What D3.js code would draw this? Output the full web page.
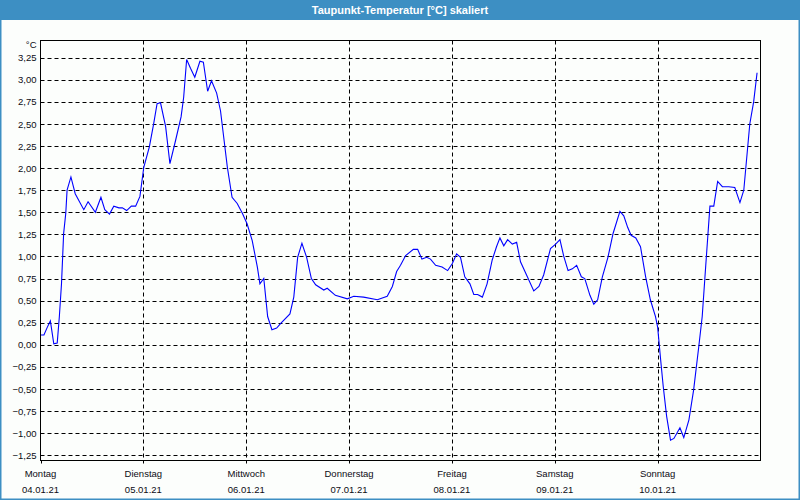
<!DOCTYPE html>
<html>
<head>
<meta charset="utf-8">
<script src="https://cdn.jsdelivr.net/npm/d3@7"></script>
<style>
  html, body { margin: 0; padding: 0; background: #fcfefc; }
  svg { display: block; font-family: "Liberation Sans", Arial, sans-serif; }
</style>
</head>
<body>
<svg id="chart" width="800" height="500"></svg>
<script>
// hours since Mo 04.01.21 00:00
var hours = [
  0, 0.8, 1.6, 2.3, 3.1, 3.9, 4.4, 4.9, 5.4, 5.9, 6.2, 7.1, 8.1, 10.1, 11.1, 12.8,
  14.1, 15.0, 16.1, 17.1, 18.3, 19.1, 20.1, 21.2, 22.2, 23.2, 24.1, 25.4, 26.4, 27.2,
  28.0, 29.2, 30.2, 31.5, 32.8, 33.4, 34.1, 35.0, 36.0, 37.2, 38.0, 39.0, 39.9, 41.1,
  42.0, 43.6, 44.7, 45.9, 47.1, 48.2, 49.4, 50.6, 51.2, 52.1, 53.0, 54.0, 55.1, 56.0,
  58.2, 59.1, 60.0, 61.0, 62.1, 63.2, 64.2, 66.1, 66.9, 68.8, 71.6, 73.1, 75.4, 78.6,
  80.9, 82.1, 83.1, 84.0, 85.2, 87.0, 88.0, 89.0, 90.1, 91.0, 92.2, 93.7, 95.0, 96.1,
  97.1, 98.0, 99.0, 100.2, 101.1, 102.0, 103.1, 104.2, 105.4, 106.4, 107.2, 108.1, 109.0,
  110.1, 111.1, 112.0, 113.6, 115.1, 116.3, 117.4, 119.0, 120.2, 121.2, 122.1, 123.1,
  124.1, 125.1, 126.2, 127.0, 128.2, 129.1, 130.0, 131.1, 132.4, 133.6, 135.2, 136.1,
  137.0, 137.8, 138.9, 140.0, 141.2, 142.3, 143.5, 144.0, 144.7, 145.3, 146.1, 147.0,
  147.8, 149.2, 150.1, 151.3, 152.4, 153.6, 154.4, 155.2, 156.2, 157.1, 158.0, 159.1,
  160.6, 162.0, 163.2, 164.1, 165.5, 166.4, 167.2
];

var values = [
  0.11, 0.11, 0.20, 0.27, 0.01, 0.02, 0.32, 0.69, 1.26, 1.49, 1.75, 1.90, 1.71, 1.53, 1.62, 1.50,
  1.67, 1.53, 1.48, 1.57, 1.55, 1.55, 1.52, 1.57, 1.57, 1.68, 2.01, 2.24, 2.50, 2.73,
  2.74, 2.47, 2.05, 2.31, 2.58, 2.80, 3.23, 3.13, 3.03, 3.21, 3.20, 2.87, 2.99, 2.85,
  2.65, 2.01, 1.67, 1.60, 1.49, 1.37, 1.18, 0.88, 0.69, 0.75, 0.32, 0.17, 0.19, 0.24,
  0.35, 0.54, 0.99, 1.15, 0.99, 0.75, 0.68, 0.62, 0.64, 0.56, 0.52, 0.55, 0.54, 0.51,
  0.55, 0.66, 0.83, 0.90, 1.01, 1.08, 1.08, 0.97, 0.99, 0.97, 0.90, 0.88, 0.84, 0.92,
  1.03, 0.99, 0.77, 0.69, 0.57, 0.57, 0.54, 0.69, 0.96, 1.11, 1.21, 1.12, 1.19,
  1.14, 1.16, 0.94, 0.77, 0.61, 0.66, 0.79, 1.09, 1.14, 1.19, 1.00, 0.84,
  0.86, 0.90, 0.77, 0.75, 0.56, 0.46, 0.51, 0.77, 0.99, 1.26, 1.51, 1.46,
  1.33, 1.24, 1.21, 1.11, 0.77, 0.51, 0.32, 0.20, -0.17, -0.47, -0.81, -1.08,
  -1.06, -0.94, -1.05, -0.85, -0.51, -0.02, 0.32, 0.88, 1.57, 1.57, 1.85, 1.79,
  1.79, 1.78, 1.61, 1.75, 2.50, 2.75, 3.08
];

var dayNames = ["Montag", "Dienstag", "Mittwoch", "Donnerstag", "Freitag", "Samstag", "Sonntag"];
var dayDates = ["04.01.21", "05.01.21", "06.01.21", "07.01.21", "08.01.21", "09.01.21", "10.01.21"];
var yTicks = [-1.25, -1, -0.75, -0.5, -0.25, 0, 0.25, 0.5, 0.75, 1, 1.25, 1.5, 1.75, 2, 2.25, 2.5, 2.75, 3, 3.25];

var chartTitle = "Taupunkt-Temperatur [°C] skaliert";
var unitLabel = "°C";

/* ===================================
 *  SETUP
 * =================================== */
var width = 800,
  height = 500;

var plotLeft = 40.5,
  plotRight = 760.5,
  plotTop = 40.5,
  plotBottom = 460.5;

var svg = d3.select("#chart");

var deLocale = d3.formatLocale({ decimal: ",", thousands: ".", grouping: [3], currency: ["", " €"] });
var fmt = deLocale.format(".2f");

var x = d3.scaleLinear().domain([0, 168]).range([plotLeft, plotRight]);
var y = d3.scaleLinear().domain([-1.31, 3.445]).range([plotBottom, plotTop]);

// window frame + title bar
svg.append("rect")
  .attr("x", 0.75).attr("y", 0.75)
  .attr("width", width - 1.5).attr("height", height - 1.5)
  .attr("fill", "#fcfefc")
  .attr("stroke", "#3d8fc3")
  .attr("stroke-width", 1.5);

svg.append("rect")
  .attr("x", 0).attr("y", 0)
  .attr("width", width).attr("height", 20)
  .attr("fill", "#3d8fc3");

svg.append("text")
  .attr("x", width / 2).attr("y", 14)
  .attr("text-anchor", "middle")
  .attr("fill", "#ffffff")
  .style("font-size", "11px")
  .style("font-weight", "bold")
  .text(chartTitle);

/* ===================================
 *  GRID
 * =================================== */
var grid = svg.append("g").attr("stroke", "#000").attr("stroke-dasharray", "4,3").attr("stroke-width", 1);

grid.selectAll("line.h")
  .data(yTicks)
  .enter().append("line")
  .attr("class", "h")
  .attr("x1", plotLeft).attr("x2", plotRight)
  .attr("y1", function (d) { return Math.round(y(d)) + 0.5; })
  .attr("y2", function (d) { return Math.round(y(d)) + 0.5; });

grid.selectAll("line.v")
  .data(d3.range(1, 7))
  .enter().append("line")
  .attr("class", "v")
  .attr("y1", plotTop).attr("y2", plotBottom)
  .attr("x1", function (d) { return Math.round(x(d * 24)) + 0.5; })
  .attr("x2", function (d) { return Math.round(x(d * 24)) + 0.5; });

/* ===================================
 *  AXES
 * =================================== */
var yAxis = d3.axisLeft(y)
  .tickValues(yTicks)
  .tickSize(0)
  .tickPadding(3)
  .tickFormat(function (d) { return fmt(d); });

var yg = svg.append("g")
  .attr("transform", "translate(" + (plotLeft - 1) + ",0)")
  .call(yAxis);
yg.select(".domain").remove();
yg.selectAll("text")
  .attr("fill", "#0c0c14")
  .style("font-size", "9.5px")
  .style("font-family", "Liberation Sans, Arial, sans-serif");

svg.append("text")
  .attr("x", plotLeft - 4).attr("y", 48)
  .attr("text-anchor", "end")
  .attr("fill", "#0c0c14")
  .style("font-size", "9.5px")
  .text(unitLabel);

var dayIdx = d3.range(0, 7);

svg.selectAll("line.tick")
  .data(dayIdx)
  .enter().append("line")
  .attr("class", "tick")
  .attr("stroke", "#000")
  .attr("x1", function (d) { return Math.round(x(d * 24)) + 0.5; })
  .attr("x2", function (d) { return Math.round(x(d * 24)) + 0.5; })
  .attr("y1", plotBottom).attr("y2", plotBottom + 3);

svg.selectAll("text.day")
  .data(dayIdx)
  .enter().append("text")
  .attr("class", "day")
  .attr("x", function (d) { return x(d * 24); })
  .attr("y", 477)
  .attr("text-anchor", "middle")
  .attr("fill", "#0c0c14")
  .style("font-size", "9.5px")
  .text(function (d) { return dayNames[d]; });

svg.selectAll("text.date")
  .data(dayIdx)
  .enter().append("text")
  .attr("class", "date")
  .attr("x", function (d) { return x(d * 24); })
  .attr("y", 493)
  .attr("text-anchor", "middle")
  .attr("fill", "#0c0c14")
  .style("font-size", "9.5px")
  .text(function (d) { return dayDates[d]; });

/* ===================================
 *  SERIES
 * =================================== */
var line = d3.line()
  .x(function (d, i) { return x(hours[i]); })
  .y(function (d) { return y(d); });

svg.append("path")
  .datum(values)
  .attr("fill", "none")
  .attr("stroke", "#0000ff")
  .attr("stroke-width", 1.1)
  .attr("d", line);

// plot frame on top
svg.append("rect")
  .attr("x", plotLeft).attr("y", plotTop)
  .attr("width", plotRight - plotLeft).attr("height", plotBottom - plotTop)
  .attr("fill", "none")
  .attr("stroke", "#000")
  .attr("stroke-width", 1);
</script>
</body>
</html>
